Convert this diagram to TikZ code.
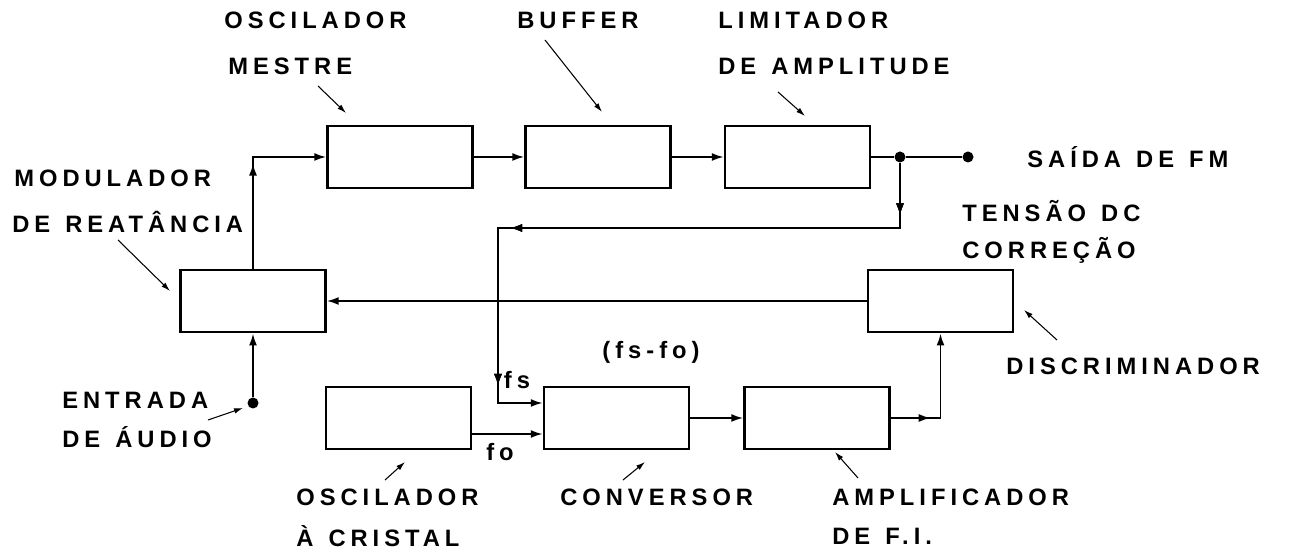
\documentclass[tikz,border=0pt]{standalone}
\usepackage{fontspec}
\newfontfamily\lblfont[LetterSpace=21,WordSpace=1.3]{Liberation Sans}
\usetikzlibrary{arrows.meta}
\usetikzlibrary{decorations.markings}

\tikzset{
  blk/.style={draw,line width=1.4pt,minimum width=2.9cm,minimum height=1.25cm},
  wire/.style={line width=1.1pt},
  arr/.style={wire,-{Latex[length=2.4mm,width=1.6mm]}},
  tipat/.style={postaction=decorate,decoration={markings,
      mark=at position #1 with {\arrow{Latex[length=2.4mm,width=1.6mm]}}}},
  lbl/.style={font=\lblfont\bfseries\fontsize{13.5}{15}\selectfont,anchor=west,inner sep=0pt},
  ptr/.style={line width=0.6pt,-{Latex[length=1.8mm,width=1.1mm]}},
  jdot/.style={circle,fill,inner sep=0pt,minimum size=2.2mm},
}

\begin{document}
\begin{tikzpicture}
\useasboundingbox (0,0) rectangle (25.78,11);

% blocos
\node[blk] (om) at (8.0,7.86) {};
\node[blk] (buf) at (11.96,7.86) {};
\node[blk] (lim) at (15.95,7.86) {};
\node[blk] (mod) at (5.06,4.98) {};
\node[blk] (disc) at (18.81,4.98) {};
\node[blk] (osc) at (7.97,2.64) {};
\node[blk] (conv) at (12.33,2.64) {};
\node[blk] (amp) at (16.34,2.64) {};

\node[jdot] (j1) at (18.0,7.86) {};
\node[jdot] (out) at (19.36,7.86) {};
\node[jdot] (ain) at (5.06,2.94) {};
\coordinate (fb1) at (18.0,6.44);
\coordinate (fb2) at (9.96,6.44);

% ligacoes
\draw[arr,tipat=2.1cm] (mod.north) |- (om.west);
\draw[arr] (om.east) -- (buf.west);
\draw[arr] (buf.east) -- (lim.west);
\draw[wire] (lim.east) -- (j1) -- (out);
\draw[arr,tipat=1.05cm,tipat=9.1cm,tipat=12.5cm] (j1) -- (fb1) -- (fb2) |- ([yshift=0.3cm]conv.west);
\draw[arr] ([yshift=-0.32cm]osc.east) -- ([yshift=-0.32cm]conv.west);
\draw[arr] (conv.east) -- (amp.west);
\draw[arr,tipat=0.8cm] (amp.east) -| (disc.south);
\draw[arr] (disc.west) -- (mod.east);
\draw[arr] (ain) -- (mod.south);

% textos
\node[lbl] (tom1) at (4.48,10.6) {OSCILADOR};
\node[lbl] (tom2) at (4.56,9.68) {MESTRE};
\node[lbl] (tbuf) at (10.34,10.6) {BUFFER};
\node[lbl] (tlim1) at (14.36,10.6) {LIMITADOR};
\node[lbl] (tlim2) at (14.36,9.68) {DE AMPLITUDE};
\node[lbl] (tout) at (20.54,7.86) {SAÍDA DE FM};
\node[lbl] (tdc1) at (19.24,6.78) {TENSÃO DC};
\node[lbl] (tdc2) at (19.24,6.0) {CORREÇÃO};
\node[lbl] (tmod1) at (0.28,7.44) {MODULADOR};
\node[lbl] (tmod2) at (0.24,6.56) {DE REATÂNCIA};
\node[lbl] (tdisc) at (20.12,3.68) {DISCRIMINADOR};
\node[lbl] (tain1) at (1.24,3.0) {ENTRADA};
\node[lbl] (tain2) at (1.24,2.26) {DE ÁUDIO};
\node[lbl,anchor=center] (tdif) at (13.02,3.96) {(fs-fo)};
\node[lbl,anchor=center] (tfs) at (10.34,3.4) {fs};
\node[lbl,anchor=center] (tfo) at (10.0,1.96) {fo};
\node[lbl] (tosc1) at (5.92,1.06) {OSCILADOR};
\node[lbl] (tosc2) at (5.92,0.28) {À CRISTAL};
\node[lbl] (tconv) at (11.2,1.06) {CONVERSOR};
\node[lbl] (tamp1) at (16.64,1.06) {AMPLIFICADOR};
\node[lbl] (tamp2) at (16.64,0.28) {DE F.I.};

% setas de indicacao
\coordinate (pa0) at (6.36,9.28);  \coordinate (pa1) at (6.92,8.74);
\coordinate (pb0) at (10.9,10.2);  \coordinate (pb1) at (12.04,8.76);
\coordinate (pc0) at (15.56,9.16); \coordinate (pc1) at (16.1,8.68);
\coordinate (pd0) at (2.36,6.2);   \coordinate (pd1) at (3.4,5.18);
\coordinate (pe0) at (21.14,4.2);  \coordinate (pe1) at (20.48,4.8);
\coordinate (pf0) at (4.16,2.6);   \coordinate (pf1) at (4.86,2.84);
\coordinate (pg0) at (7.7,1.4);    \coordinate (pg1) at (8.1,1.76);
\coordinate (ph0) at (12.46,1.4);  \coordinate (ph1) at (12.9,1.76);
\coordinate (pi0) at (17.16,1.44); \coordinate (pi1) at (16.7,1.96);
\foreach \p in {pa,pb,pc,pd,pe,pf,pg,ph,pi}
  \draw[ptr] (\p0) -- (\p1);

\end{tikzpicture}
\end{document}
